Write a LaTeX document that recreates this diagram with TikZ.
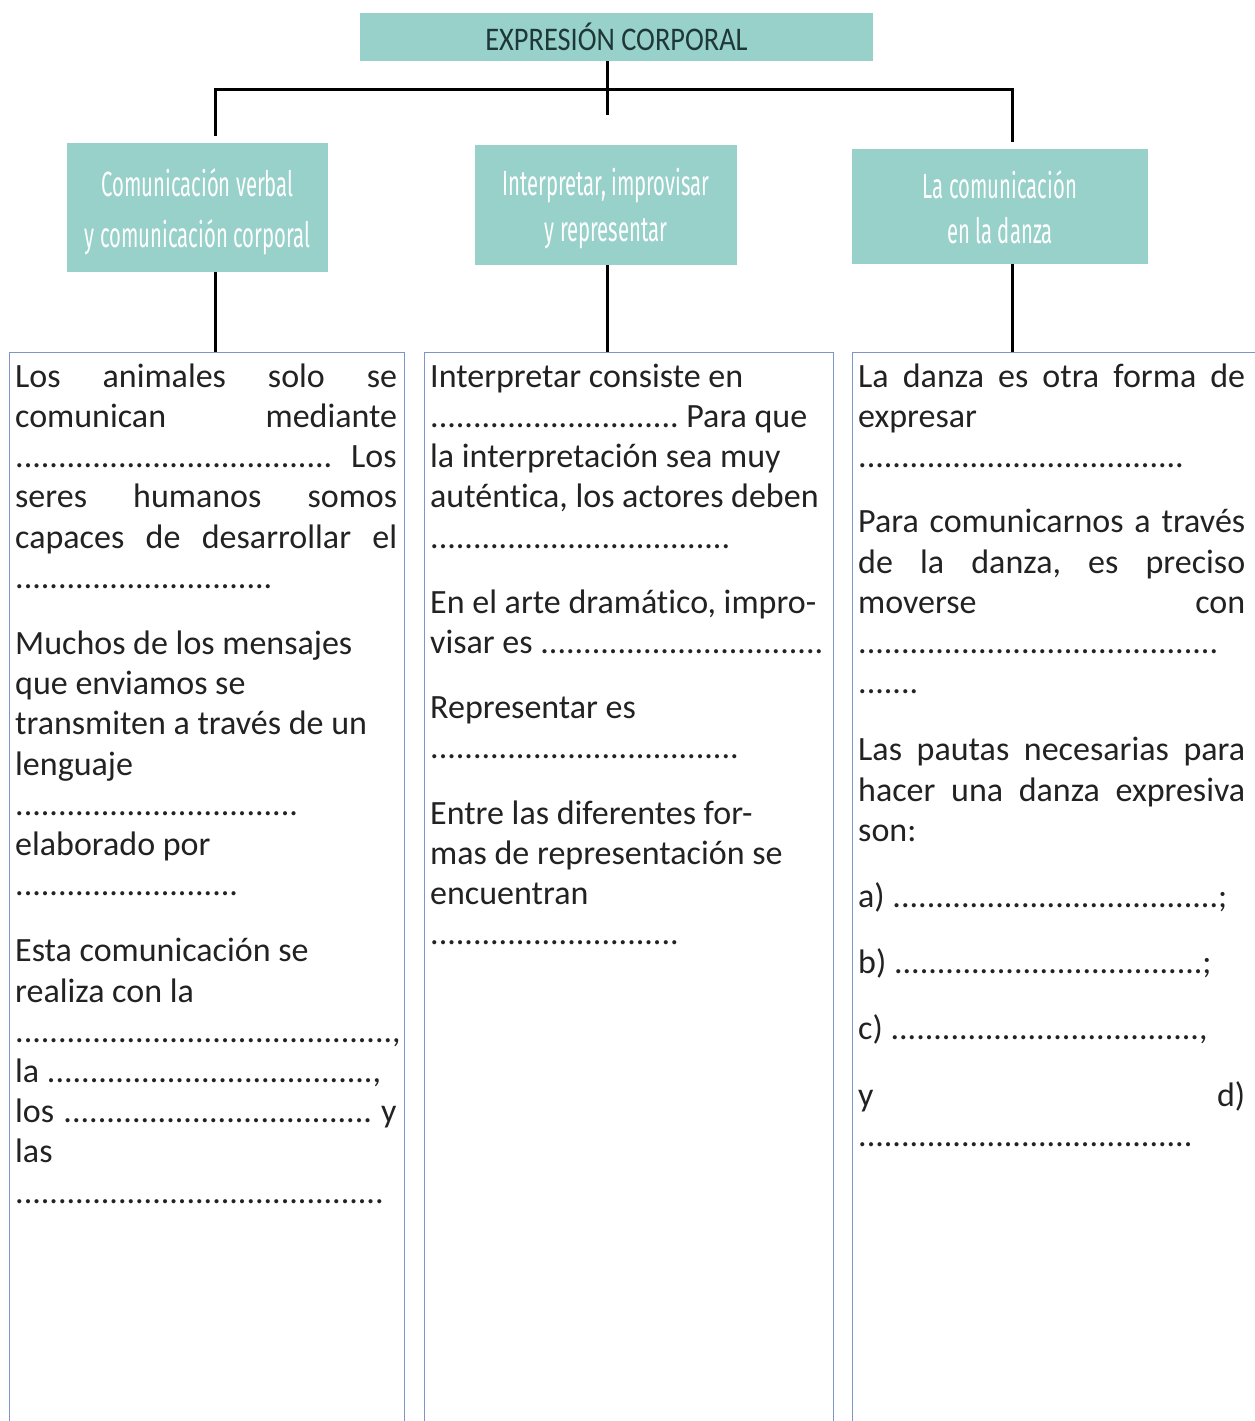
\documentclass[tikz,border=0pt]{standalone}
\usepackage{fontspec}
\setmainfont{Carlito}[Ligatures=NoCommon]
\newfontfamily\hdrfont[FakeStretch=0.58,Ligatures=NoCommon]{Fira Sans}
\newfontfamily\topfont[FakeStretch=0.86]{Carlito}
\definecolor{teal1}{RGB}{151,209,202}
\definecolor{boxblue}{RGB}{127,149,198}
\definecolor{txt}{RGB}{34,34,34}
\definecolor{toptxt}{RGB}{30,55,55}
\newcount\dotcnt
\newcommand\dts[1]{\dotcnt=#1\relax\loop.\advance\dotcnt by -1\relax\ifnum\dotcnt>0\repeat}
\newcommand\lineL[1]{\hbox to\hsize{#1\hfil}}
\newcommand\lineJ[1]{\hbox to\hsize{\spaceskip=.226em plus 1fil\relax #1}}
\newcommand\colsetup{\frenchspacing\baselineskip=40.2pt\lineskiplimit=-1000pt\lineskip=0pt\parskip=0pt\hbox{}}
\begin{document}
\begin{tikzpicture}[x=1pt,y=-1pt,
  hdr/.style={fill=teal1,draw=none,inner sep=0pt},
  hdrtext/.style={inner sep=0pt,align=center,text=white},
  topbox/.style={fill=teal1,draw=none,inner sep=0pt,text=toptxt,
     font={\topfont\fontsize{33}{36}\selectfont}},
  colbox/.style={draw=boxblue,line width=1.4pt,anchor=north west,inner sep=0pt},
  coltext/.style={anchor=north west,inner sep=0pt,text=txt,font={\fontsize{34}{40.2}\selectfont}},
  conn/.style={line width=3pt,black}]
\useasboundingbox (0,0) rectangle (1255,1421);
\clip (0,0) rectangle (1255,1421);
\fill[white] (0,0) rectangle (1255,1421);

% top
\node[topbox,minimum width=513pt,minimum height=48pt] (top) at (616.5,37) {EXPRESIÓN CORPORAL};

% headers
\node[hdr,minimum width=261pt,minimum height=129pt] (h1) at (197.5,207.5) {};
\node[hdr,minimum width=262pt,minimum height=120pt] (h2) at (606,205) {};
\node[hdr,minimum width=296pt,minimum height=115pt] (h3) at (1000,206.5) {};
\node[hdrtext,font={\hdrfont\fontsize{35}{51}\selectfont}] (h1t) at (197.5,212) {Comunicación verbal\\y comunicación corporal};
\node[hdrtext,font={\hdrfont\fontsize{35}{46}\selectfont}] (h2t) at (606,209) {Interpretar, improvisar\\y representar};
\node[hdrtext,font={\hdrfont\fontsize{35}{45}\selectfont}] (h3t) at (1000,207) {La comunicación\\en la danza};

% columns
\node[colbox,minimum width=395pt,minimum height=1100pt] (A) at (9,352) {};
\node[colbox,minimum width=409pt,minimum height=1100pt] (B) at (424,352) {};
\node[colbox,minimum width=410pt,minimum height=1100pt] (C) at (852,352) {};

% connectors
\coordinate (hl) at (215,89);
\coordinate (hr) at (1012,89);
\coordinate (mtail) at (607,115);
\draw[conn] (top.south -| mtail) -- (mtail);
\draw[conn,line cap=rect] (hl) -- (hr);
\draw[conn] (hl) -- ([yshift=7pt]h1.north -| hl);
\draw[conn] (hr) -- ([yshift=7pt]h3.north -| hr);
\draw[conn] (h1.south -| hl) -- (A.north -| hl);
\draw[conn] (h2.south -| mtail) -- (B.north -| mtail);
\draw[conn] (h3.south -| hr) -- (C.north -| hr);

% column texts
\node[coltext] (tA) at (15,346.8) {\vbox{\hsize=382pt\colsetup
\lineJ{Los animales solo se}
\lineJ{comunican mediante}
\lineJ{\dts{37} Los}
\lineJ{seres humanos somos}
\lineJ{capaces de desarrollar el}
\lineL{\dts{30}}
\vskip 26pt
\lineL{Muchos de los mensajes}
\lineL{que enviamos se}
\lineL{transmiten a través de un}
\lineL{lenguaje}
\lineL{\dts{33}}
\lineL{elaborado por}
\lineL{\dts{26}}
\vskip 26pt
\lineL{Esta comunicación se}
\lineL{realiza con la}
\lineL{\dts{44},}
\lineL{la \dts{38},}
\lineJ{los \dts{36} y}
\lineL{las}
\lineL{\dts{43}}
}};

\node[coltext] (tB) at (430,346.8) {\vbox{\hsize=398pt\colsetup
\lineL{Interpretar consiste en}
\lineL{\dts{29} Para que}
\lineL{la interpretación sea muy}
\lineL{auténtica, los actores deben}
\lineL{\dts{35}}
\vskip 25pt
\lineL{En el arte dramático, impro-}
\lineL{visar es \dts{33}}
\vskip 25pt
\lineL{Representar es}
\lineL{\dts{36}}
\vskip 25pt
\lineL{Entre las diferentes for-}
\lineL{mas de representación se}
\lineL{encuentran}
\lineL{\dts{29}}
}};

\node[coltext] (tC) at (858,346.8) {\vbox{\hsize=387pt\colsetup
\lineJ{La danza es otra forma de}
\lineL{expresar}
\lineL{\dts{38}}
\vskip 25pt
\lineJ{Para comunicarnos a través}
\lineJ{de la danza, es preciso}
\lineJ{moverse con}
\lineL{\dts{42}}
\lineL{\dts{7}}
\vskip 27pt
\lineJ{Las pautas necesarias para}
\lineJ{hacer una danza expresiva}
\lineL{son:}
\vskip 26pt
\lineL{a) \dts{38};}
\vskip 26pt
\lineL{b) \dts{36};}
\vskip 26pt
\lineL{c) \dts{36},}
\vskip 26pt
\lineJ{y d)}
\lineL{\dts{39}}
}};
\end{tikzpicture}
\end{document}
